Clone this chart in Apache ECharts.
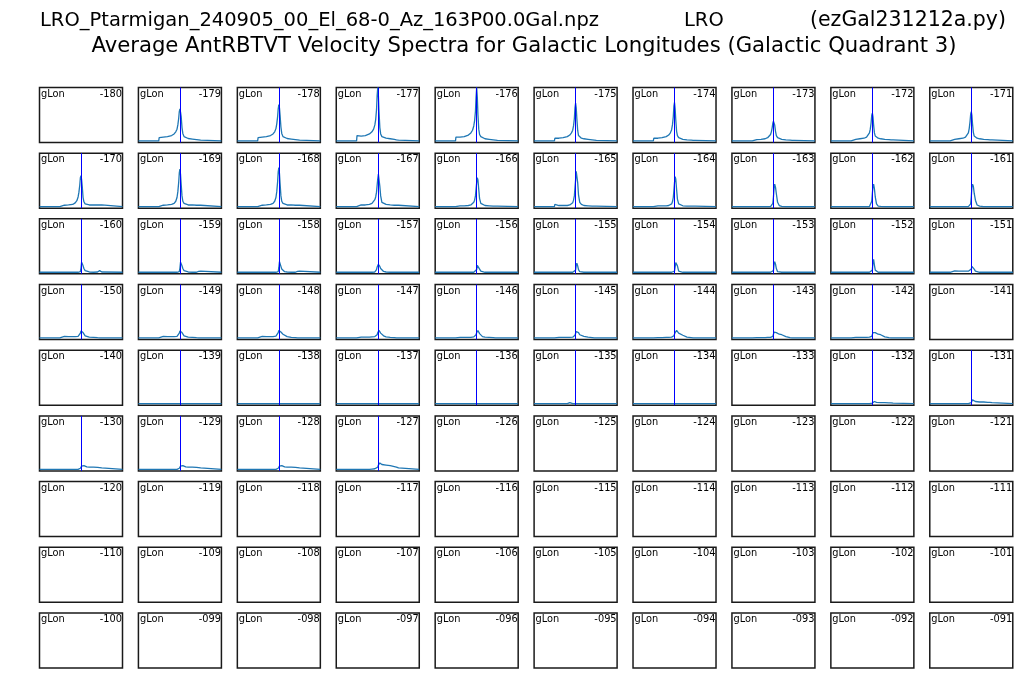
<!DOCTYPE html>
<html><head><meta charset="utf-8">
<script src="https://cdn.jsdelivr.net/npm/echarts@6/dist/echarts.min.js"></script>
<style>html,body{margin:0;padding:0;background:#fff}#c{width:1024px;height:680px}</style>
</head><body><div id="c"></div>
<script>
// ---------------- DATA ----------------
// shared velocity samples (panel x range -100..100, vertical reference line at 0)
const velocity = [-100,-51,-50,-40,-30,-20,-14,-10,-7,-5,-3,-1.5,0,1.5,3,5,7,10,14,20,30,40,45,50,51,100];

const gLon = [
 -180,-179,-178,-177,-176,-175,-174,-173,-172,-171,
 -170,-169,-168,-167,-166,-165,-164,-163,-162,-161,
 -160,-159,-158,-157,-156,-155,-154,-153,-152,-151,
 -150,-149,-148,-147,-146,-145,-144,-143,-142,-141,
 -140,-139,-138,-137,-136,-135,-134,-133,-132,-131,
 -130,-129,-128,-127,-126,-125,-124,-123,-122,-121,
 -120,-119,-118,-117,-116,-115,-114,-113,-112,-111,
 -110,-109,-108,-107,-106,-105,-104,-103,-102,-101,
 -100,-99,-98,-97,-96,-95,-94,-93,-92,-91];

const FLAT = [0,0,0,0,0,0,0,0,0,0,0,0,0,0,0,0,0,0,0,0,0,0,0,0,0,0];

const spectraRow1 = [
 null,
 [0,0,6,7,8,10,13,17,22,30,42,55,60,54,46,25,14,8,5.5,4.5,3.5,2.5,2,1.5,0,0],
 [0,0,6,7,8,10,13,17,23,32,45,60,68,62,48,26,14,8,5.5,4.5,3.5,2.5,2,1.5,0,0],
 [0,0,10,9,10,13,17,22,30,40,58,85,100,85,55,25,13,8,6,5,4,3,2,1.5,0,0],
 [0,0,7,7,8,11,15,20,28,38,55,82,100,82,50,22,12,8,6,4,3,2,1.5,1,0,0],
 [0,0,5,5,6,8,11,15,20,28,42,62,71,62,42,20,10,7,5,4,3,2,1.5,1,0,0],
 [0,0,5,5,6,8,11,15,21,30,45,65,72,60,40,18,10,6,4,3,2,1.5,1,1,0,0],
 [0,0,2.5,2.5,3,4,6,8,12,17,25,33,37,38,30,18,10,6,4,3,2,1.5,1,1,0,0],
 [0,0,3,3,4,5,7,10,15,22,34,48,52,45,30,15,9,6,5,4,3,2.5,2,2,0,0],
 [0,0,3,3,4,5,7,10,15,23,36,50,55,48,32,16,9,6,5,4,3,2.5,2,2,0,0]
];
const spectraRow2 = [
 [0,0,2.5,2.5,3,4,7,11,18,27,40,54,58,50,38,17,9,5,4,3,3,3,3,3,0,0],
 [0,0,2.5,2.5,3,4,6,10,17,28,45,63,70,60,42,20,10,6,4,3,3,2.5,2.5,2.5,0,0],
 [0,0,2.5,2.5,3,4,6,10,17,28,46,65,73,62,43,20,10,6,4,3,3,2.5,2.5,2.5,0,0],
 [0,0,3,3,3,4,6,9,13,18,27,40,52,61,58,38,20,8,5,4,3,2.5,2.5,2.5,0,0],
 [0,0,1.5,1.5,1.5,2,3,5,8,12,20,33,45,54,50,32,15,6,3,2,1.5,1,1,1,0,0],
 [0,0,4,2,2,2,3,4,7,12,20,35,50,66,69,45,22,8,4,2,1.5,1,1,1,0,0],
 [0,0,2.5,1.5,1.5,1.5,2,3,5,9,17,30,45,56,52,32,14,5,2,1.5,1,1,1,1,0,0],
 [0,0,0,0,0,0,0,0,0,0,1,6,18,34,42,36,24,8,2,0.5,0,0,0,0,0,0],
 [0,0,0,0,0,0,0,0,0,0,2,10,25,38,42,33,18,5,1,0.5,0,0,0,0,0,0],
 [0,0,0,0,0,0,0,0,0,0,1,5,18,36,42,38,25,12,3,1,0,0,0,0,0,0]
];
const spectraRow3 = [
 [0,0,0,0,0,0,0,0,0,0,0,1,8,19,17,12,7,3,1,0.5,0,0.5,3,0.5,0,0],
 [0,0,0,0,0,0,0,0,0,0,0,1,8,19,17,12,7,3,1,0.5,0,0,1.5,2,0,0],
 [0,0,0,0,0,0,0,0,0,0,0,1,9,20,17,11,6,3,1,0.5,0,0,1.5,2,0,0],
 [0,0,0,0,0,0,0,0,0.5,1.5,5,10,13,15,14,11,7,4,1.5,0.5,0,0,0,0,0,0],
 [0,0,0,0,0,0,0,0,0,0,0,0,5,13,15,11,6,2,0.5,0,0,0,0,0,0,0],
 [0,0,0,0,0,0,0,0,0,0,0,0,4,13,17,12,5,1,0,0,0,0,0,0,0,0],
 [0,0,0,0,0,0,0,0,0,0,0,0,2,10,18,20,12,2,0,0,0,0,0,0,0,0],
 [0,0,0,0,0,0,0,0,0,0,0,0,3,15,20,15,7,1,0,0,0,0,0,0,0,0],
 [0,0,0,0,0,0,0,0,0,0,0,0,4,20,24,13,4,0.5,0,0,0,0,0,0,0,0],
 [0,0,2,2.5,2,2,2,2,2,2,2.5,3,6,11,13.5,11,6,2,0.5,0,0,0,0,0,0,0]
];
const spectraRow4 = [
 [0,0,3.5,3,2.5,2.5,2.5,2.5,3,3.5,5,9,13,15,14,10,7,4,2.5,1.5,1,0.5,0.3,0,0,0],
 [0,0,3,3,2.5,2.5,2.5,2.5,3,3.5,5,9,13,15,14,10,7,4,2.5,1.5,1,0.5,0.3,0,0,0],
 [0,0,3,3,2.5,2.5,2.5,3,3.5,4,6,10,14,16,14,11,8,7,5,2.5,1,0.5,0,0,0,0],
 [0,0,1.5,1.5,1.5,1.5,2,2,2.5,3,4,6,10,13,14,12,9,6,4,2,1,0.5,0,0,0,0],
 [0,0,1,1,1,1,1,1.5,2,2.5,3.5,6,10,13,14,12,8,5,2.5,1.5,1,0.5,0,0,0,0],
 [0,0,1,1,1,1,1,1,1.5,2,3,5,8,12,14,13,10,6,4,3,1.5,0.5,0,0,0,0],
 [0,0,0.5,0.5,0.5,1,1,1,1.5,2,2.5,4,7,10,13,14,12,9,7,5,1.5,0.5,0,0,0,0],
 [0,0,0.5,0.5,0.5,0.5,1,1,1,1,1.5,3,7,11,13,12,10,8,7,6,2.5,0.5,0,0,0,0],
 [0,0,1,1,1,1,1,1,1.5,1.5,2,3,6,10,13,12,10,8,7,6,2,0.5,0,0,0,0],
 null
];
const spectraRow5 = [
 null, FLAT, FLAT, FLAT, FLAT,
 [0,0,0,0,0,0,2,0,0,0,0,0,0,0,0,0,0,0,0,0,0,0,0,0,0,0],
 FLAT, null,
 [0,0,0,0,0,0,0,0,0,0,0,0,1,3,4.5,4,3,2.5,2,2,2,1.5,1.5,1,0,0],
 [0,0,0,0,0,0,0,0,0,0,0,0.5,2,5,7,6,5,4,3.5,3,3,2.5,2.5,2,0,0]
];
const spectraRow6 = [
 [0,0,0,0,0,0,0,0,0,0.5,1,2,4,6,7,8,7,5,4.5,4,4,3.5,3,2.5,0,0],
 [0,0,0,0,0,0,0,0,0,0.5,1,2,4,6,7,8,7,5,4.5,4,4,3.5,3,2.5,0,0],
 [0,0,0,0,0,0,0,0,0,0.5,1,2,4,6,7,8,7,5,4.5,4,4,3.5,3,2.5,0,0],
 [0,0,0,0,0,0,0.5,1,1,1.5,2,2.5,4,8,11,12,11,9,8,8,7,5,4,2.5,0,0],
 null, null, null, null, null, null
];
const emptyRow = [null,null,null,null,null,null,null,null,null,null];
const spectraRows = [spectraRow1, spectraRow2, spectraRow3, spectraRow4, spectraRow5, spectraRow6, emptyRow, emptyRow, emptyRow];

const titleLine1Parts = ['LRO_Ptarmigan_240905_00_El_68-0_Az_163P00.0Gal.npz', 'LRO', '(ezGal231212a.py)'];
const titleLine2 = 'Average AntRBTVT Velocity Spectra for Galactic Longitudes (Galactic Quadrant 3)';

// ---------------- LAYOUT ----------------
const LEFT0 = 39.5, PITCH_X = 98.92, W = 83, TOP0 = 87.5, PITCH_Y = 65.68, H = 55;
const FONT = 'DejaVu Sans';

const chart = echarts.init(document.getElementById('c'), null, {renderer: 'canvas'});
const grids = [], xAxes = [], yAxes = [], series = [], graphics = [];

function fmt(v) { return '-' + String(Math.abs(v)).padStart(3, '0'); }

spectraRows.forEach((row, r) => {
  row.forEach((spec, c) => {
    const i = r * 10 + c;
    const left = LEFT0 + c * PITCH_X, top = TOP0 + r * PITCH_Y;
    grids.push({left: left, top: top, width: W, height: H, show: true,
      borderColor: '#1a1a1a', borderWidth: 1.5, backgroundColor: '#fff', containLabel: false});
    xAxes.push({gridIndex: i, type: 'value', min: -100, max: 100, show: false});
    yAxes.push({gridIndex: i, type: 'value', min: -3, max: 100, show: false});
    if (spec) {
      series.push({
        type: 'line', xAxisIndex: i, yAxisIndex: i, showSymbol: false, silent: true,
        lineStyle: {color: '#1f77b4', width: 1.3}, animation: false,
        data: velocity.map((v, k) => [v, spec[k]]),
        markLine: {silent: true, symbol: 'none', animation: false, label: {show: false},
          lineStyle: {color: '#0000ff', width: 1, type: 'solid'},
          data: [{xAxis: 0}]}
      });
    }
    graphics.push({type: 'text', x: left + 1.5, y: top + 1.5, z: 100,
      style: {text: 'gLon', fontSize: 9.8, fontFamily: FONT, fill: '#000', align: 'left', verticalAlign: 'top'}});
    graphics.push({type: 'text', x: left + W - 0.5, y: top + 1.5, z: 100,
      style: {text: fmt(gLon[i]), fontSize: 9.8, fontFamily: FONT, fill: '#000', align: 'right', verticalAlign: 'top'}});
  });
});

graphics.push({type: 'text', x: 40, y: 21, style: {text: titleLine1Parts[0], fontSize: 19.5, fontFamily: FONT, fill: '#000', align: 'left', verticalAlign: 'middle'}});
graphics.push({type: 'text', x: 684, y: 21, style: {text: titleLine1Parts[1], fontSize: 19.5, fontFamily: FONT, fill: '#000', align: 'left', verticalAlign: 'middle'}});
graphics.push({type: 'text', x: 1006, y: 21, style: {text: titleLine1Parts[2], fontSize: 20.5, fontFamily: FONT, fill: '#000', align: 'right', verticalAlign: 'middle'}});
graphics.push({type: 'text', x: 524, y: 46, style: {text: titleLine2, fontSize: 21.2, fontFamily: FONT, fill: '#000', align: 'center', verticalAlign: 'middle'}});

chart.setOption({
  animation: false,
  backgroundColor: '#fff',
  grid: grids, xAxis: xAxes, yAxis: yAxes, series: series, graphic: graphics
});
</script></body></html>
